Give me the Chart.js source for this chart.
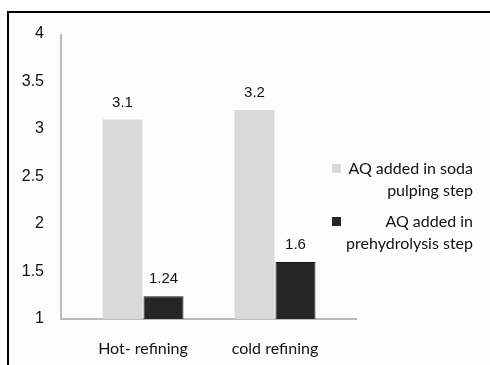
<!DOCTYPE html>
<html lang="en">
<head>
  <meta charset="UTF-8">
  <title>AQ addition and refining</title>
  <script src="https://cdn.jsdelivr.net/npm/chart.js"></script>
  <style>
    body { margin: 0; background: #fff; }
    #wrap { position: relative; width: 490px; height: 365px; }
    #frame {
      position: absolute; left: 7px; top: 11px; right: -10px; bottom: -10px;
      border-left: 2px solid #000; border-top: 2px solid #000;
      background: #fdfdfd;
    }
    canvas { position: absolute; left: 0; top: 0; }
  </style>
</head>
<body>
  <div id="wrap">
    <div id="frame"></div>
    <canvas id="barChart" width="490" height="365"></canvas>
  </div>

  <script>
    const categories = ['Hot- refining', 'cold refining'];
    const sodaStep = [3.1, 3.2];
    const prehydrolysisStep = [1.24, 1.6];
    const seriesNames = ['AQ added in soda pulping step', 'AQ added in prehydrolysis step'];
    // how each legend entry is wrapped
    const legendLines = [['AQ added in soda', 'pulping step'], ['AQ added in', 'prehydrolysis step']];
    const yTicks = [1, 1.5, 2, 2.5, 3, 3.5, 4];

    const axisGray = '#a6a6a6';
    const textColor = '#111';
    const arialLike = '"Liberation Sans", Arial, sans-serif';
    const calibriLike = 'Lato, "Open Sans", sans-serif';
    const axisOverhang = 16; // axis lines run a bit past the outer categories

    // Axis lines, drawn wider than the plot area
    const axisLines = {
      id: 'axisLines',
      beforeDatasetsDraw(chart) {
        const { ctx, chartArea: a } = chart;
        const left = a.left - axisOverhang;
        ctx.save();
        ctx.strokeStyle = axisGray;
        ctx.lineWidth = 1.5;
        ctx.beginPath();
        ctx.moveTo(left, a.top);
        ctx.lineTo(left, a.bottom);
        ctx.lineTo(a.right + axisOverhang, a.bottom);
        ctx.stroke();
        ctx.restore();
      }
    };

    // Value printed above each bar
    const barValues = {
      id: 'barValues',
      afterDatasetsDraw(chart) {
        const ctx = chart.ctx;
        ctx.save();
        ctx.font = '15px ' + arialLike;
        ctx.fillStyle = textColor;
        ctx.textAlign = 'center';
        ctx.textBaseline = 'middle';
        chart.data.datasets.forEach((ds, i) => {
          chart.getDatasetMeta(i).data.forEach((bar, j) => {
            ctx.fillText(String(ds.data[j]), bar.x, bar.y - 17);
          });
        });
        ctx.restore();
      }
    };

    // Legend on the right, text wrapped and right-aligned
    const sideLegend = {
      id: 'sideLegend',
      afterDraw(chart) {
        const ctx = chart.ctx;
        const tops = [164, 217];
        ctx.save();
        ctx.font = '16px ' + calibriLike;
        ctx.textAlign = 'right';
        ctx.textBaseline = 'middle';
        chart.data.datasets.forEach((ds, i) => {
          ctx.fillStyle = ds.backgroundColor;
          ctx.fillRect(332, tops[i], 9, 9);
          ctx.fillStyle = textColor;
          legendLines[i].forEach((line, k) => {
            ctx.fillText(line, 473, tops[i] + 5 + k * 21.5);
          });
        });
        ctx.restore();
      }
    };

    new Chart(document.getElementById('barChart'), {
      type: 'bar',
      data: {
        labels: categories,
        datasets: [
          {
            label: seriesNames[0],
            data: sodaStep,
            backgroundColor: '#d9d9d9'
          },
          {
            label: seriesNames[1],
            data: prehydrolysisStep,
            backgroundColor: '#262626',
            borderColor: '#1a1a1a',
            borderWidth: 1
          }
        ]
      },
      plugins: [axisLines, barValues, sideLegend],
      options: {
        responsive: false,
        animation: false,
        categoryPercentage: 0.621,
        barPercentage: 0.976,
        layout: { padding: { top: 34, right: 149, left: 0, bottom: 0 } },
        plugins: {
          legend: { display: false },
          tooltip: { enabled: false }
        },
        scales: {
          x: {
            afterFit(scale) { scale.height = 46; },
            grid: { display: false, drawTicks: false },
            border: { display: false },
            ticks: {
              padding: 20,
              color: textColor,
              font: { family: calibriLike, size: 16 },
              maxRotation: 0,
              autoSkip: false
            }
          },
          y: {
            min: 1,
            max: 4,
            afterBuildTicks(scale) {
              scale.ticks = yTicks.map(v => ({ value: v }));
            },
            afterFit(scale) {
              scale.width = 77;
              // the large label gap should not push the plot down
              scale.paddingTop = 0;
              scale.paddingBottom = 0;
            },
            grid: { display: false, drawTicks: false },
            border: { display: false },
            ticks: {
              padding: 17 + axisOverhang,
              color: textColor,
              font: { family: arialLike, size: 16 },
              callback: v => String(v)
            }
          }
        }
      }
    });
  </script>
</body>
</html>
